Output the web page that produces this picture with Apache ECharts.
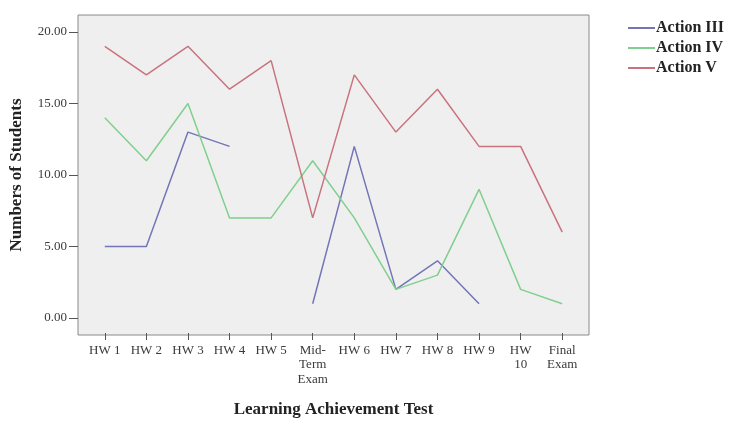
<!DOCTYPE html>
<html><head><meta charset="utf-8">
<script src="https://cdn.jsdelivr.net/npm/echarts@6/dist/echarts.min.js"></script>
<style>html,body{margin:0;padding:0;background:#fff;}#c{width:737px;height:423px;}</style>
</head><body><div id="c"></div>
<script>
var categories = ['HW 1','HW 2','HW 3','HW 4','HW 5','Mid-\nTerm\nExam','HW 6','HW 7','HW 8','HW 9','HW\n10','Final\nExam'];
var actionIII = [5, 5, 13, 12, null, 1, 12, 2, 4, 1, null, null];
var actionIV = [14, 11, 15, 7, 7, 11, 7, 2, 3, 9, 2, 1];
var actionV = [19, 17, 19, 16, 18, 7, 17, 13, 16, 12, 12, 6];
var seriesNames = ['Action III', 'Action IV', 'Action V'];
var colors = ['#7276b6', '#80cf8e', '#c9737f'];
var font = 'Liberation Serif';

var chart = echarts.init(document.getElementById('c'));
function mk(name, data, color) {
  return { name: name, type: 'line', data: data, xAxisIndex: 1, yAxisIndex: 1,
    symbol: 'none', connectNulls: false, lineStyle: { color: color, width: 1.5 },
    itemStyle: { color: color }, emphasis: { disabled: true }, silent: true };
}
chart.setOption({
  animation: false,
  textStyle: { fontFamily: font },
  grid: [
    { left: 78, top: 15, width: 511, height: 320, show: true, backgroundColor: '#efefef', borderColor: '#8a8a8a', borderWidth: 1 },
    { left: 84, top: 32, width: 499, height: 286 },
    { left: 78, top: 32, width: 511, height: 286 },
    { left: 84, top: 15, width: 499, height: 320 }
  ],
  legend: {
    orient: 'vertical', left: 628, top: 20, padding: 0, itemWidth: 27, itemHeight: 2, itemGap: 4, icon: 'rect',
    data: seriesNames,
    textStyle: { fontFamily: font, fontSize: 16, fontWeight: 'bold', color: '#222', lineHeight: 16, padding: [0,0,0,-4] }
  },
  xAxis: [
    { gridIndex: 0, type: 'value', show: false, min: 0, max: 1 },
    { gridIndex: 1, type: 'category', data: categories, boundaryGap: true, show: false },
    { gridIndex: 2, type: 'value', show: false, min: 0, max: 1 },
    { gridIndex: 3, type: 'category', data: categories, boundaryGap: true,
      axisLine: { show: false },
      axisTick: { show: true, alignWithLabel: true, length: 7, lineStyle: { color: '#555' } },
      axisLabel: { interval: 0, fontFamily: font, fontSize: 13, color: '#3a3a3a', lineHeight: 14.5, margin: 10 },
      name: 'Learning Achievement Test', nameLocation: 'middle', nameGap: 68,
      nameTextStyle: { fontFamily: font, fontSize: 17, fontWeight: 'bold', color: '#222' } }
  ],
  yAxis: [
    { gridIndex: 0, type: 'value', show: false, min: 0, max: 1 },
    { gridIndex: 1, type: 'value', min: 0, max: 20, interval: 5, show: false },
    { gridIndex: 2, type: 'value', min: 0, max: 20, interval: 5,
      axisLine: { show: false }, splitLine: { show: false },
      axisTick: { show: true, length: 9, lineStyle: { color: '#555' } },
      axisLabel: { fontFamily: font, fontSize: 13, color: '#3a3a3a', margin: 11, formatter: function (v) { return v.toFixed(2); } },
      name: 'Numbers of Students', nameLocation: 'middle', nameGap: 53, nameRotate: 90,
      nameTextStyle: { fontFamily: font, fontSize: 17, fontWeight: 'bold', color: '#222' } },
    { gridIndex: 3, type: 'value', show: false, min: 0, max: 1 }
  ],
  series: [ mk(seriesNames[0], actionIII, colors[0]), mk(seriesNames[1], actionIV, colors[1]), mk(seriesNames[2], actionV, colors[2]) ]
});
</script></body></html>
